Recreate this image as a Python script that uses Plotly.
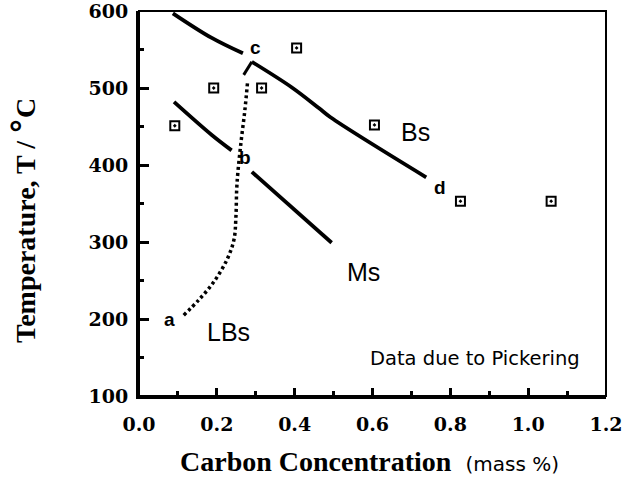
import plotly.graph_objects as go

# ---- data ----
bs_upper_x = [0.087, 0.187, 0.267]
bs_upper_y = [597, 565, 545]
bs_lower_x = [0.29, 0.392, 0.462, 0.492, 0.738]
bs_lower_y = [534, 501, 474, 462, 384]
ms_upper_x = [0.09, 0.187, 0.238]
ms_upper_y = [482, 439, 419]
ms_lower_x = [0.29, 0.495]
ms_lower_y = [391, 299]
lbs_x = [0.115, 0.154, 0.192, 0.226, 0.244, 0.249, 0.251, 0.254, 0.262, 0.272, 0.279]
lbs_y = [205, 225, 248, 277, 303, 332, 368, 390, 429, 471, 508]
lbs_stub_x = [0.269, 0.29]
lbs_stub_y = [517, 534]
data_x = [0.092, 0.192, 0.315, 0.405, 0.605, 0.826, 1.059]
data_y = [451, 500, 500, 552, 452, 353, 353]

point_labels = ["a", "b", "c", "d"]
point_label_x = [0.079, 0.272, 0.3, 0.774]
point_label_y = [199, 410, 553, 371]
curve_labels = ["Bs", "Ms", "LBs"]
curve_label_x = [0.71, 0.577, 0.231]
curve_label_y = [443, 261, 183]

x_tickvals = [0.0, 0.2, 0.4, 0.6, 0.8, 1.0, 1.2]
x_ticktext = ["0.0", "0.2", "0.4", "0.6", "0.8", "1.0", "1.2"]
y_tickvals = [100, 200, 300, 400, 500, 600]
y_ticktext = ["100", "200", "300", "400", "500", "600"]

fig = go.Figure()
solid = dict(color="black", width=3.8)
for xs, ys in [(bs_upper_x, bs_upper_y), (bs_lower_x, bs_lower_y),
               (ms_upper_x, ms_upper_y), (ms_lower_x, ms_lower_y)]:
    fig.add_trace(go.Scatter(x=xs, y=ys, mode="lines", line=solid,
                             line_shape="spline", hoverinfo="skip"))
fig.add_trace(go.Scatter(x=lbs_stub_x, y=lbs_stub_y, mode="lines",
                         line=dict(color="black", width=3), hoverinfo="skip"))
fig.add_trace(go.Scatter(x=lbs_x, y=lbs_y, mode="lines",
                         line=dict(color="black", width=3.5, dash="3px,3px"),
                         line_shape="spline", hoverinfo="skip"))
fig.add_trace(go.Scatter(x=data_x, y=data_y, mode="markers",
                         marker=dict(symbol="square-open-dot", size=9, color="black",
                                     line=dict(color="black", width=2))))

for t, x, y in zip(point_labels, point_label_x, point_label_y):
    fig.add_annotation(x=x, y=y, text=t, showarrow=False,
                       font=dict(family="Liberation Sans", size=19, color="black", weight="bold"))
for t, x, y in zip(curve_labels, curve_label_x, curve_label_y):
    fig.add_annotation(x=x, y=y, text=t, showarrow=False,
                       font=dict(family="Liberation Sans", size=25, color="black"))
fig.add_annotation(x=0.864, y=149, text="Data due to Pickering", showarrow=False,
                   font=dict(family="DejaVu Sans", size=19.5, color="black"))

# axis titles
fig.add_annotation(xref="paper", yref="paper", x=0.0835, y=-0.171,
                   xanchor="left", yanchor="middle", showarrow=False,
                   text='Carbon Concentration  <span style="font-family:DejaVu Sans;font-weight:normal;font-size:20px">(mass %)</span>',
                   font=dict(family="Liberation Serif", size=28, color="black", weight="bold"))
fig.add_annotation(xref="paper", yref="paper", x=-0.246, y=0.455,
                   xanchor="center", yanchor="middle", textangle=-90, showarrow=False,
                   text='Temperature, T / <span style="font-family:DejaVu Sans;font-size:32px">°</span>C',
                   font=dict(family="Liberation Serif", size=28, color="black", weight="bold"))

tickfont = dict(family="DejaVu Serif", size=19, color="black", weight="bold")
fig.update_xaxes(range=[0, 1.2], tickvals=x_tickvals, ticktext=x_ticktext,
                 ticks="inside", ticklen=8, tickwidth=2.5, tickcolor="black",
                 minor=dict(dtick=0.1, tick0=0, ticks="inside", ticklen=5, tickwidth=2.5, tickcolor="black"),
                 showline=True, linecolor="black", linewidth=3, showgrid=False, zeroline=False,
                 tickfont=tickfont, ticklabelstandoff=9, ticklabeloverflow="allow",
                 automargin=False)
fig.update_yaxes(range=[100, 600], tickvals=y_tickvals, ticktext=y_ticktext,
                 ticks="inside", ticklen=10, tickwidth=2.5, tickcolor="black",
                 minor=dict(dtick=50, tick0=100, ticks="inside", ticklen=5, tickwidth=2.5, tickcolor="black"),
                 showline=True, linecolor="black", linewidth=3, showgrid=False, zeroline=False,
                 tickfont=tickfont, ticklabelstandoff=4, ticklabeloverflow="allow",
                 automargin=False)
fig.add_shape(type="rect", xref="paper", yref="paper", x0=0, y0=0, x1=1, y1=1,
              line=dict(color="black", width=2), layer="above")

fig.update_layout(width=632, height=480, showlegend=False,
                  margin=dict(l=139, r=26, t=11, b=84),
                  paper_bgcolor="white", plot_bgcolor="white")
fig.write_html("out.html")
